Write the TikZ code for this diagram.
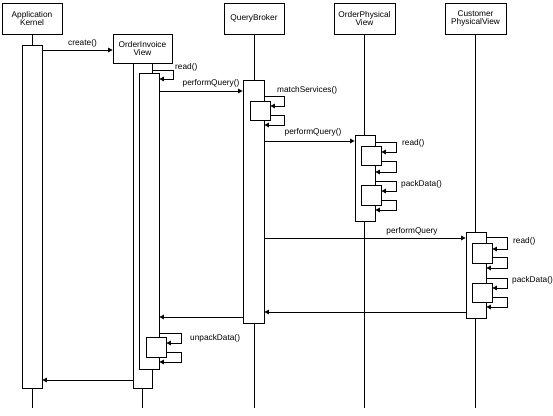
\documentclass[tikz,border=0pt]{standalone}
\usepackage{fontspec}
\setmainfont{Liberation Sans}
\usetikzlibrary{arrows.meta}
\begin{document}
\begin{tikzpicture}[x=1pt,y=-1pt,
  every node/.style={font=\fontsize{8.3}{8.8}\selectfont},
  hdr/.style={draw,line width=0.8pt,fill=white,inner sep=0pt,align=center,minimum width=60,minimum height=31},
  act/.style={draw,line width=0.8pt,fill=white,inner sep=0pt,minimum width=20},
  life/.style={line width=0.8pt},
  msg/.style={line width=0.8pt,-{Triangle[length=4.5pt,width=4.5pt]}},
  lbl/.style={inner sep=0pt}]
\useasboundingbox (0,0) rectangle (553,415);
\coordinate (bot) at (0,408);
\node[hdr] (hK) at (32,18.5) {Application\\Kernel};
\node[hdr] (hQ) at (254,18.5) {QueryBroker};
\node[hdr,minimum width=61] (hP) at (364.5,18.5) {OrderPhysical\\View};
\node[hdr,minimum width=61] (hC) at (475.5,18.5) {Customer\\PhysicalView};
\node[hdr,minimum width=59,minimum height=29] (hO) at (142.5,48.5) {OrderInvoice\\View};
\path (32,0) coordinate (xK) (142.5,0) coordinate (xO) (254,0) coordinate (xQ) (364.5,0) coordinate (xP) (475.5,0) coordinate (xC);
\draw[life] (hK.south) -- (xK |- 0,45);
\draw[life] (hQ.south) -- (xQ |- 0,80);
\draw[life] (hP.south) -- (xP |- 0,135);
\draw[life] (hC.south) -- (xC |- 0,232);
\draw[life] (xK |- 0,388) -- (xK |- bot);
\draw[life] (xO |- 0,388) -- (xO |- bot);
\draw[life] (xQ |- 0,323) -- (xQ |- bot);
\draw[life] (xP |- 0,221) -- (xP |- bot);
\draw[life] (xC |- 0,318) -- (xC |- bot);
% activations
\node[act,minimum height=343] (aK) at (32,216.5) {};
\node[act,minimum width=19,minimum height=325] (aO1) at (142.5,225.5) {};
\node[act,minimum height=296] (aO2) at (149,221) {};
\node[act,minimum height=20] (aOn) at (156,347) {};
\node[act,minimum width=21,minimum height=243] (aQ) at (253.5,201.5) {};
\node[act,minimum height=19] (aQn) at (260,110.5) {};
\node[act,minimum height=86] (aP) at (365,178) {};
\node[act,minimum height=19] (aPn1) at (371,155.5) {};
\node[act,minimum height=20] (aPn2) at (371,195) {};
\node[act,minimum height=86] (aC) at (476,275) {};
\node[act,minimum height=20] (aCn1) at (482,253) {};
\node[act,minimum height=19] (aCn2) at (482,292.5) {};
% messages
\draw[msg] (aK.east |- 0,50) -- (hO.west |- 0,50);
\node[lbl] (l1) at (82.5,43) {create()};
\draw[msg] (aO1.east |- 0,70) -- (173,70) -- (173,79) -- (aO2.east |- 0,79);
\node[lbl,anchor=west] (l2) at (175,67) {read()};
\draw[msg] (aO2.east |- 0,91) -- (aQ.west |- 0,91);
\node[lbl] (l3) at (211,83) {performQuery()};
\draw[msg] (aQ.east |- 0,96) -- (284,96) -- (284,106) -- (aQn.east |- 0,106);
\node[lbl,anchor=west] (l4) at (277,90) {matchServices()};
\draw[msg] (aQn.east |- 0,115) -- (284,115) -- (284,125) -- (aQ.east |- 0,125);
\draw[msg] (aQ.east |- 0,141) -- (aP.west |- 0,141);
\node[lbl] (l5) at (313,132) {performQuery()};
\draw[msg] (aP.east |- 0,142) -- (396,142) -- (396,152) -- (aPn1.east |- 0,152);
\node[lbl,anchor=west] (l6) at (402,143) {read()};
\draw[msg] (aPn1.east |- 0,161) -- (396,161) -- (396,172) -- (aP.east |- 0,172);
\draw[msg] (aP.east |- 0,181) -- (396,181) -- (396,191) -- (aPn2.east |- 0,191);
\node[lbl,anchor=west] (l7) at (401,184) {packData()};
\draw[msg] (aPn2.east |- 0,200) -- (396,200) -- (396,210) -- (aP.east |- 0,210);
\draw[msg] (aQ.east |- 0,238) -- (aC.west |- 0,238);
\node[lbl] (l8) at (412,231) {performQuery};
\draw[msg] (aC.east |- 0,237) -- (507,237) -- (507,249) -- (aCn1.east |- 0,249);
\node[lbl,anchor=west] (l9) at (513,241) {read()};
\draw[msg] (aCn1.east |- 0,257) -- (507,257) -- (507,268) -- (aC.east |- 0,268);
\draw[msg] (aC.east |- 0,278) -- (507,278) -- (507,288) -- (aCn2.east |- 0,288);
\node[lbl,anchor=west] (l10) at (512,280) {packData()};
\draw[msg] (aCn2.east |- 0,297) -- (507,297) -- (507,307) -- (aC.east |- 0,307);
\draw[msg] (aC.west |- 0,312) -- (aQ.east |- 0,312);
\draw[msg] (aQ.west |- 0,317) -- (aO2.east |- 0,317);
\draw[msg] (aO2.east |- 0,333) -- (181,333) -- (181,343) -- (aOn.east |- 0,343);
\node[lbl,anchor=west] (l11) at (190,338) {unpackData()};
\draw[msg] (aOn.east |- 0,352) -- (181,352) -- (181,362) -- (aO2.east |- 0,362);
\draw[msg] (aO1.west |- 0,380) -- (aK.east |- 0,380);
\end{tikzpicture}
\end{document}
